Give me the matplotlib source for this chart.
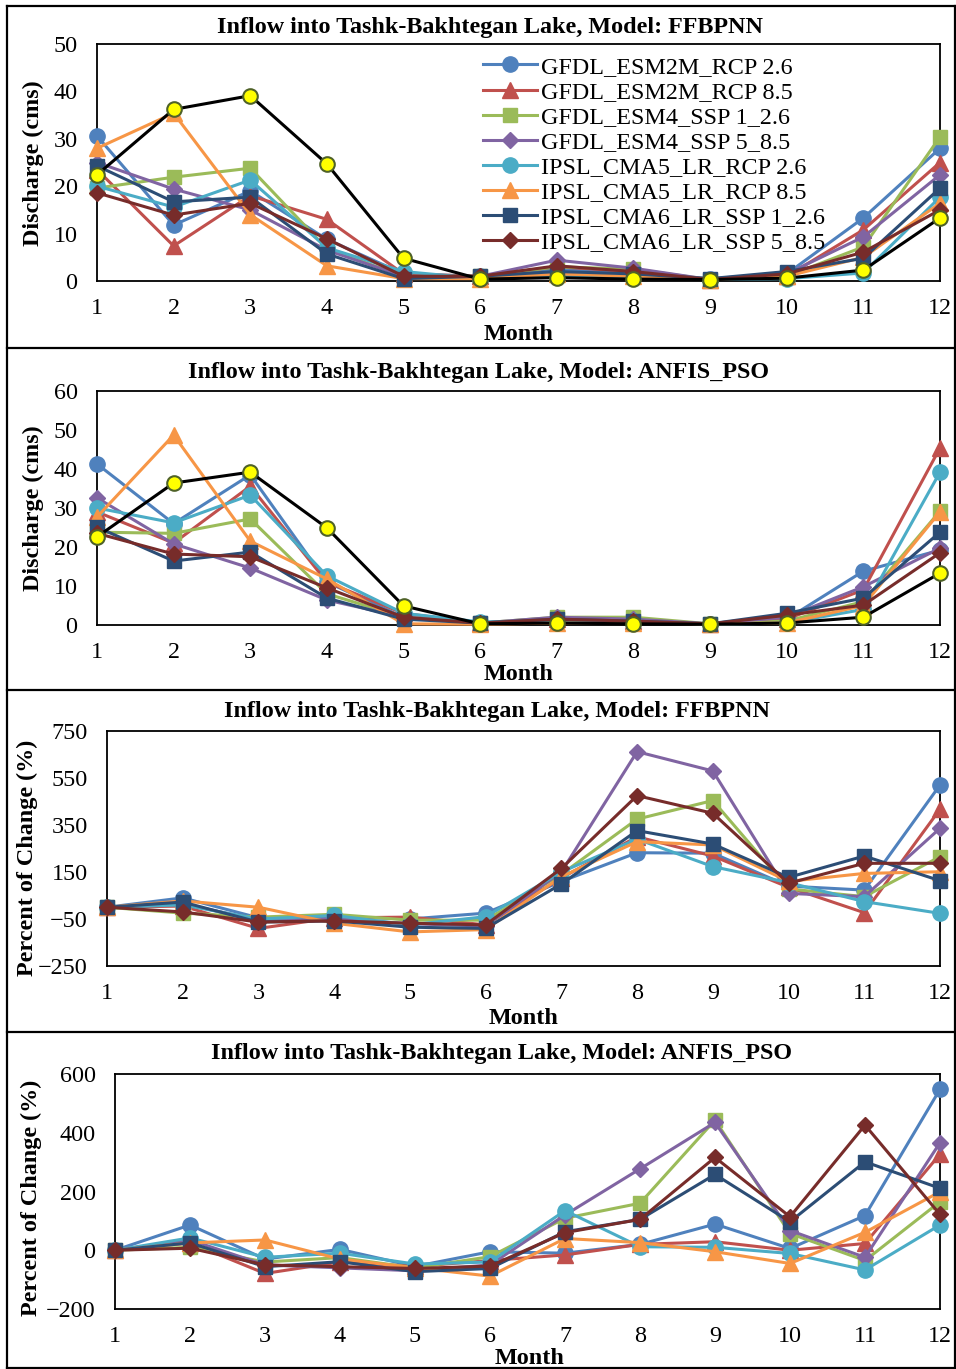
"""Inflow into Tashk-Bakhtegan Lake: discharge and percent change per month,
FFBPNN vs ANFIS_PSO under eight GCM/scenario combinations.

Output: out.png
"""

import matplotlib.pyplot as plt
from matplotlib.lines import Line2D

plt.rcParams["font.family"] = ["Liberation Serif", "DejaVu Serif"]

months = list(range(1, 13))

series_names = [
    "GFDL_ESM2M_RCP 2.6",
    "GFDL_ESM2M_RCP 8.5",
    "GFDL_ESM4_SSP 1_2.6",
    "GFDL_ESM4_SSP 5_8.5",
    "IPSL_CMA5_LR_RCP 2.6",
    "IPSL_CMA5_LR_RCP 8.5",
    "IPSL_CMA6_LR_SSP 1_2.6",
    "IPSL_CMA6_LR_SSP 5_8.5",
]

# base period (black line, yellow markers)
base_ffbpnn = [22.4, 36.2, 39.1, 24.7, 4.8, 0.4, 0.7, 0.4, 0.3, 0.6, 2.3, 13.3]
base_anfis = [22.6, 36.4, 39.2, 24.9, 4.9, 0.3, 0.5, 0.3, 0.2, 0.5, 2.0, 13.3]

# discharge (cms), FFBPNN
q_ffbpnn = [
    [30.6, 11.8, 19.0, 8.8, 1.5, 1.0, 2.5, 1.5, 0.5, 1.5, 13.3, 28.0],
    [23.5, 7.4, 18.0, 13.0, 1.5, 1.0, 3.0, 2.0, 0.3, 1.0, 10.8, 25.0],
    [19.6, 21.9, 23.8, 6.8, 1.0, 1.0, 3.0, 2.5, 0.3, 1.0, 7.2, 30.4],
    [25.0, 19.4, 15.0, 6.5, 1.0, 1.0, 4.4, 2.7, 0.3, 1.5, 9.3, 22.4],
    [20.0, 15.6, 21.3, 7.0, 2.0, 0.5, 1.0, 1.0, 0.3, 0.5, 1.7, 17.7],
    [28.0, 35.4, 14.0, 3.2, 0.5, 0.5, 1.5, 1.0, 0.3, 1.0, 5.0, 16.4],
    [24.3, 16.7, 17.7, 5.7, 0.5, 1.0, 2.0, 1.5, 0.5, 2.0, 4.8, 19.6],
    [18.6, 13.9, 16.4, 8.9, 1.0, 1.0, 3.2, 2.0, 0.3, 1.5, 6.1, 15.0],
]

# discharge (cms), ANFIS_PSO
q_anfis = [
    [41.3, 26.0, 38.5, 11.0, 2.0, 0.5, 1.5, 1.0, 0.3, 1.5, 13.8, 19.2],
    [29.0, 21.0, 35.6, 11.0, 3.0, 0.5, 1.5, 1.0, 0.3, 1.5, 9.0, 45.4],
    [23.8, 23.5, 27.2, 8.0, 2.0, 0.5, 2.0, 2.0, 0.3, 1.0, 6.0, 29.2],
    [32.6, 20.8, 14.6, 6.4, 2.0, 0.5, 2.0, 1.5, 0.3, 2.0, 9.8, 19.7],
    [30.0, 26.2, 33.3, 12.6, 3.0, 0.8, 1.0, 1.0, 0.2, 0.5, 4.0, 39.2],
    [27.7, 48.7, 21.5, 11.8, 0.3, 0.2, 0.5, 0.5, 0.3, 0.5, 5.0, 29.0],
    [25.1, 16.4, 18.7, 6.9, 1.5, 0.5, 1.5, 1.0, 0.3, 3.0, 6.9, 23.8],
    [23.5, 18.2, 17.5, 9.5, 2.0, 0.5, 1.5, 1.0, 0.3, 2.5, 5.1, 18.5],
]

# percent of change (%), FFBPNN
pc_ffbpnn = [
    [0, 40, -45, -40, -50, -25, 110, 232, 230, 90, 73, 520],
    [0, 5, -90, -45, -42, -75, 125, 300, 218, 85, -23, 417],
    [0, -25, -42, -30, -55, -55, 140, 375, 454, 78, 45, 215],
    [0, 15, -55, -50, -70, -80, 150, 662, 580, 59, 45, 336],
    [0, 10, -50, -35, -75, -40, 150, 290, 173, 105, 24, -26],
    [0, 27, 0, -68, -105, -95, 130, 279, 265, 110, 144, 151],
    [0, 22, -63, -58, -85, -90, 99, 326, 269, 127, 218, 113],
    [0, -20, -63, -58, -68, -75, 165, 475, 400, 102, 187, 187],
]

# percent of change (%), ANFIS_PSO
pc_anfis = [
    [0, 86, -30, 3, -55, -5, -10, 20, 89, 6, 118, 548],
    [0, 25, -79, -40, -55, -35, -16, 20, 29, 0, 23, 327],
    [0, 10, -40, -25, -60, -22, 109, 160, 443, 57, -35, 165],
    [0, 35, -50, -60, -70, -50, 120, 277, 435, 67, -24, 366],
    [0, 42, -24, -10, -47, -40, 135, 12, 10, -11, -67, 86],
    [0, 25, 35, -30, -60, -88, 40, 26, -5, -45, 61, 199],
    [0, 25, -56, -39, -73, -62, 63, 105, 258, 97, 301, 211],
    [0, 7, -50, -56, -62, -54, 60, 105, 316, 114, 426, 122],
]

colors = ["#4F81BD", "#C0504D", "#9BBB59", "#8064A2",
          "#4BACC6", "#F79646", "#2C4D75", "#772C2A"]
markers = ["o", "^", "s", "D", "o", "^", "s", "D"]
msizes = [11, 11, 10.5, 8, 11, 11, 10.5, 8]

W, H = 956, 1369
fig = plt.figure(figsize=(W / 100, H / 100), dpi=100)

FS = 17.4


def px_axes(left, top, right, bottom):
    return fig.add_axes([left / W, 1 - bottom / H, (right - left) / W, (bottom - top) / H])


def draw_panel(box, data, base, ylim, ystep, title, tpos, ylabel, ylpos, mpos, legend=False):
    ax = px_axes(*box)
    for vals, c, m, ms, name in zip(data, colors, markers, msizes, series_names):
        ax.plot(months, vals, color=c, marker=m, markersize=ms, linewidth=2.2,
                label=name, clip_on=False, zorder=3)
    if base is not None:
        ax.plot(months, base, color="black", marker="o", markersize=10.5,
                markerfacecolor="#FFFF00", markeredgecolor="#4F6228",
                markeredgewidth=1.5, linewidth=2.2, clip_on=False, zorder=4)
    ax.set_xlim(1, 12)
    ax.set_ylim(*ylim)
    ax.set_xticks(months)
    ax.set_yticks(range(ylim[0], ylim[1] + 1, ystep))
    ax.tick_params(length=0, labelsize=FS)
    ax.tick_params(axis="y", pad=14)
    ax.tick_params(axis="x", pad=12.5)
    for s in ax.spines.values():
        s.set_linewidth(1.3)
    fig.text(tpos[0] / W, 1 - tpos[1] / H, title, ha="center", va="center",
             fontsize=FS, fontweight="bold")
    fig.text(ylpos[0] / W, 1 - ylpos[1] / H, ylabel, ha="center", va="center",
             rotation=90, fontsize=FS, fontweight="bold")
    fig.text(mpos[0] / W, 1 - mpos[1] / H, "Month", ha="center", va="center",
             fontsize=FS, fontweight="bold")
    if legend:
        ax.legend(loc="upper left", bbox_to_anchor=((483 - box[0]) / (box[2] - box[0]), 1 - (56 - box[1]) / (box[3] - box[1])),
                  frameon=False, fontsize=FS, handlelength=2.25, handletextpad=0.15,
                  labelspacing=0.13, borderaxespad=0, borderpad=0)
    return ax


title = "Inflow into Tashk-Bakhtegan Lake, Model: {}"
draw_panel((97, 44, 940, 281), q_ffbpnn, base_ffbpnn, (0, 50), 10,
           title.format("FFBPNN"), (490, 27), "Discharge (cms)", (33, 163),
           (519, 334), legend=True)
draw_panel((97, 391, 940, 625), q_anfis, base_anfis, (0, 60), 10,
           title.format("ANFIS_PSO"), (479, 372), "Discharge (cms)", (33, 508),
           (519, 675))
draw_panel((107, 731, 940, 966), pc_ffbpnn, None, (-250, 750), 200,
           title.format("FFBPNN"), (497, 712), "Percent of Change (%)", (27, 858),
           (524, 1018))
draw_panel((115, 1074, 940, 1309), pc_anfis, None, (-200, 600), 200,
           title.format("ANFIS_PSO"), (502, 1053), "Percent of Change (%)", (31, 1198),
           (530, 1358))

# outer frame and panel separators
frame = [(7, 6, 955, 6), (7, 6, 7, 1368), (955, 6, 955, 1368), (7, 1368, 955, 1368),
         (7, 348, 955, 348), (7, 690, 955, 690), (7, 1032, 955, 1032)]
for x0, y0, x1, y1 in frame:
    fig.add_artist(Line2D([x0 / W, x1 / W], [1 - y0 / H, 1 - y1 / H],
                          color="black", linewidth=1.6))

fig.savefig("out.png", dpi=100)
